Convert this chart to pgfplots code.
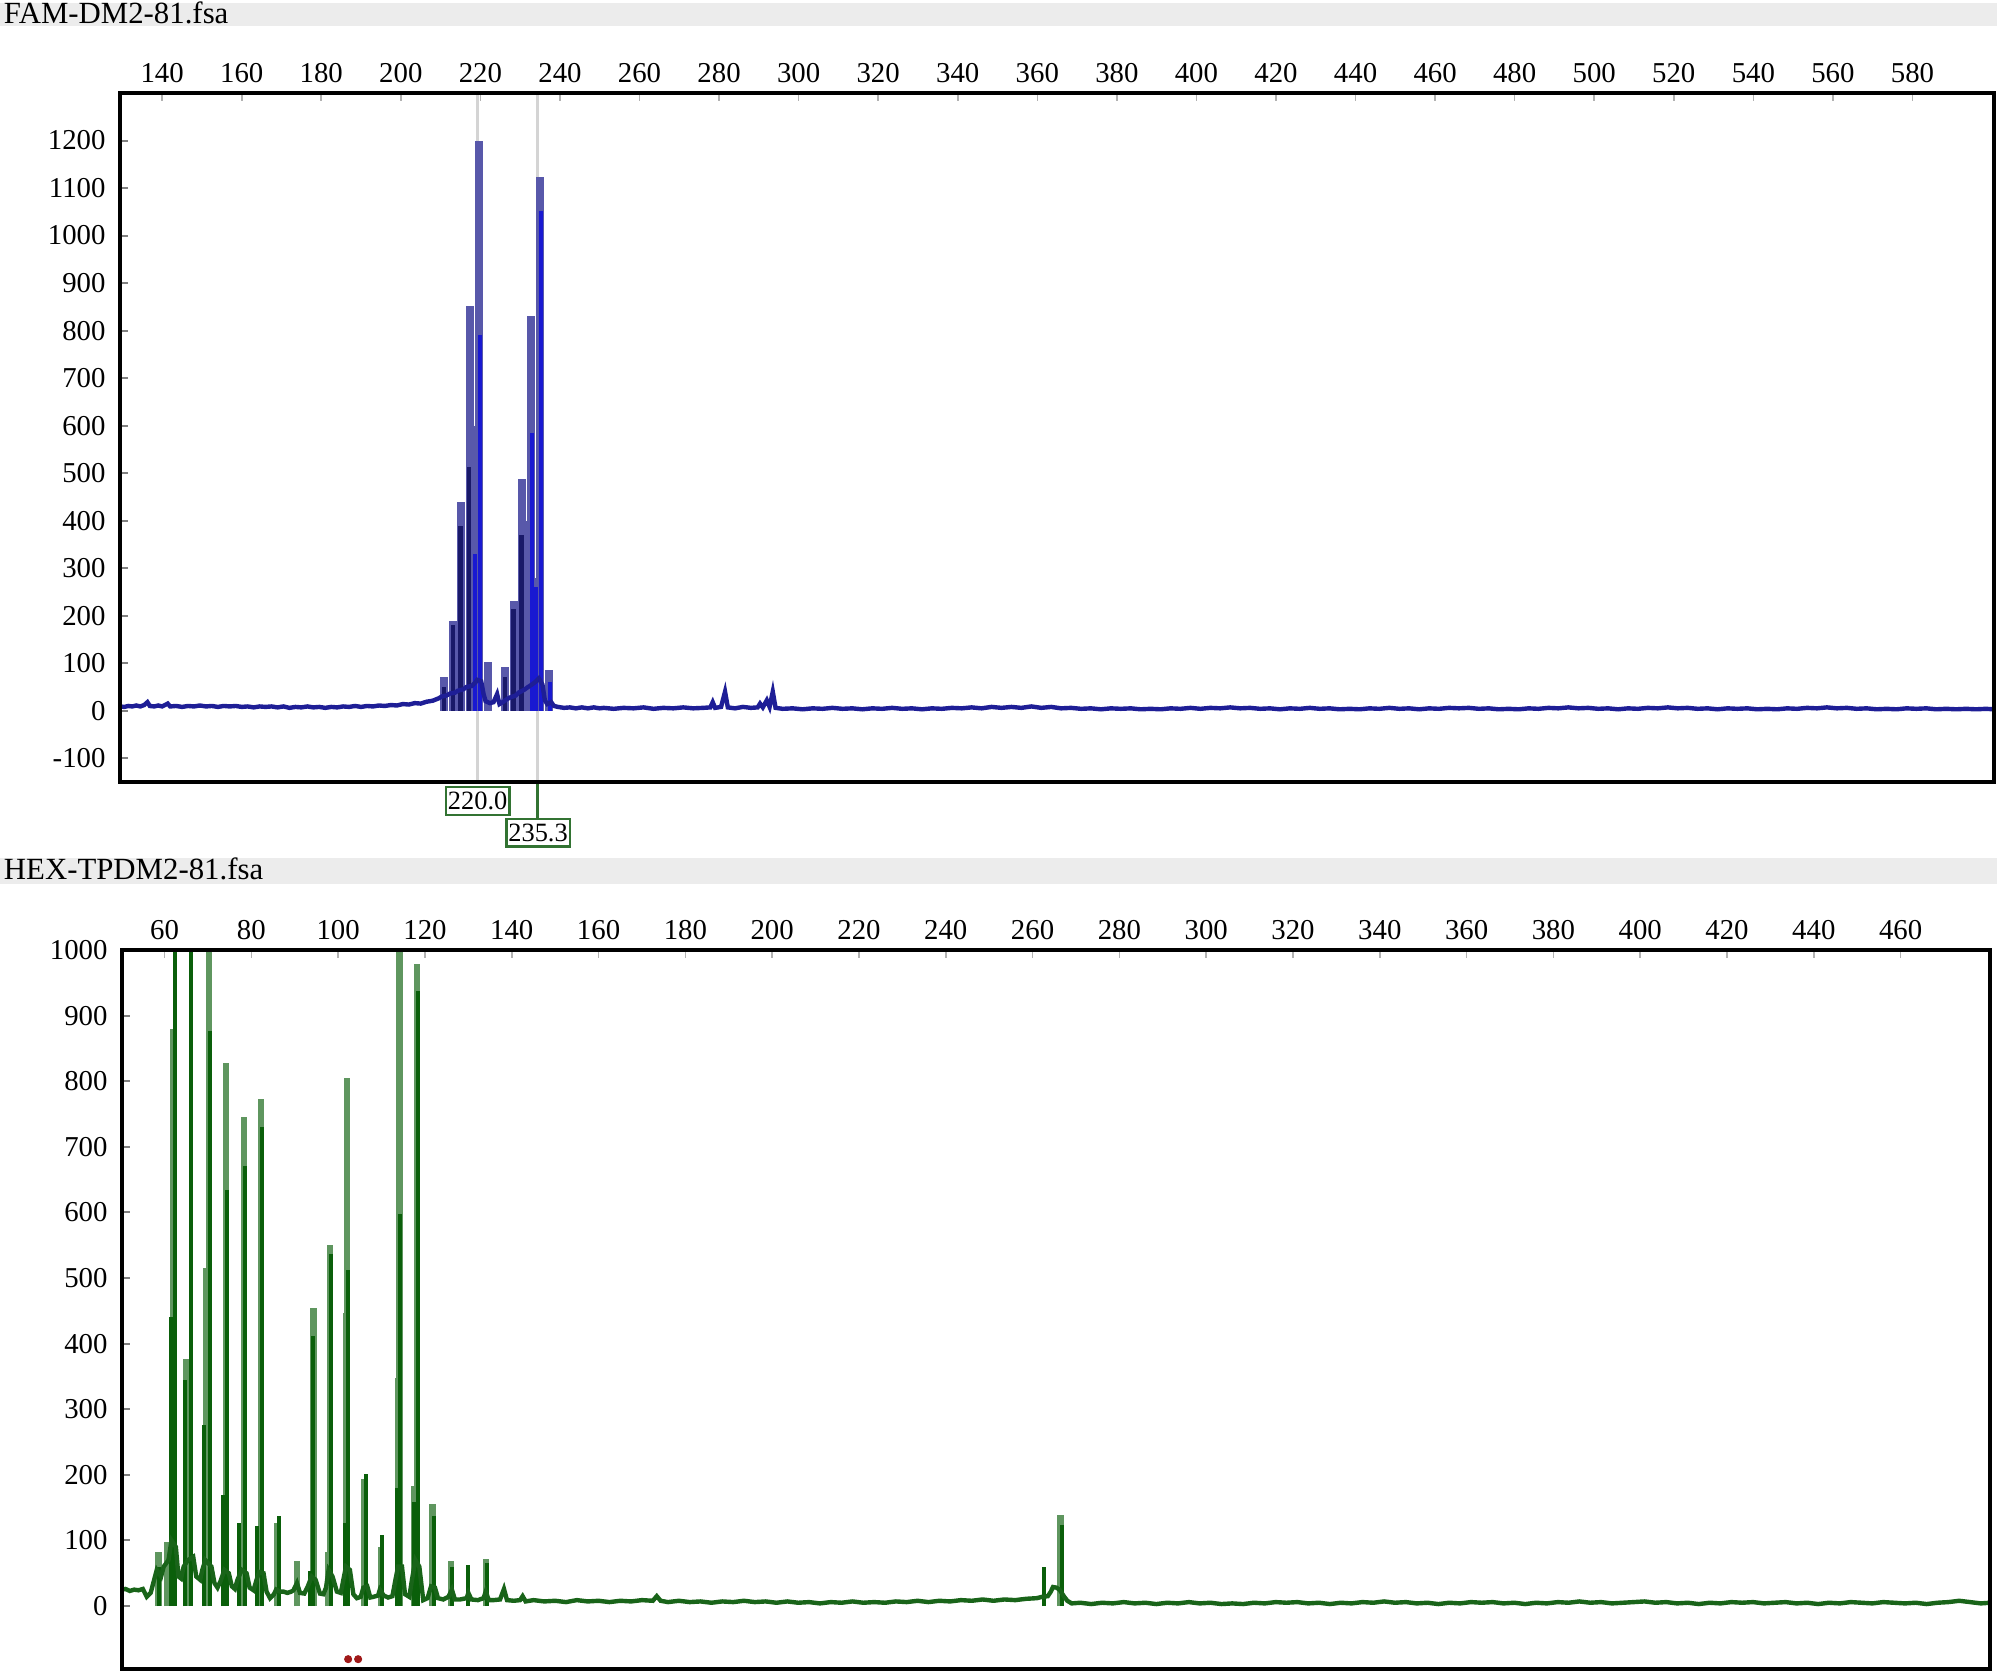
\documentclass[border=0pt]{standalone}
\usepackage{pgfplots}
\pgfplotsset{compat=1.18}
\usepackage{fontspec}
\setmainfont{Liberation Serif}
\definecolor{slate}{RGB}{88,88,170}
\definecolor{brightblue}{RGB}{25,25,210}
\definecolor{navy}{RGB}{25,25,105}
\definecolor{tracetop}{RGB}{30,30,150}
\definecolor{lightgreen}{RGB}{95,150,95}
\definecolor{darkgreen}{RGB}{10,95,10}
\definecolor{tracebot}{RGB}{25,100,25}
\definecolor{titlegray}{RGB}{236,236,236}
\definecolor{boxgreen}{RGB}{50,115,50}
\definecolor{guidegray}{RGB}{212,212,212}
\definecolor{dotred}{RGB}{160,25,25}
\pgfplotsset{
  ekg/.style={
    scale only axis, anchor=north west,
    axis on top,
    axis line style={line width=1pt, black},
    xtick pos=right, xticklabel pos=right,
    ytick pos=left,
    tick label style={font=\fontsize{7.2}{8}\selectfont},
    x tick label style={yshift=-1pt},
    /pgf/number format/assume math mode=true,
    /pgf/number format/1000 sep={},
    scaled ticks=false,
    ytick style={draw=gray, line width=0.5pt},
    xtick style={draw=gray!60, line width=0.4pt},
    major tick length=2pt,
  }
}
\begin{document}
\begin{tikzpicture}
\path[use as bounding box] (0,0) rectangle (500pt,-419.25pt);
% title bars
\fill[titlegray] (0,-0.75pt) rectangle (499.25pt,-6.6pt);
\node[anchor=base west, inner sep=0pt, font=\fontsize{7.7}{8}\selectfont] at (0.8pt,-6.0pt) {FAM-DM2-81.fsa};
\fill[titlegray] (0,-214.5pt) rectangle (499.25pt,-220.9pt);
\node[anchor=base west, inner sep=0pt, font=\fontsize{7.7}{8}\selectfont] at (0.8pt,-219.9pt) {HEX-TPDM2-81.fsa};

% ---------------- top panel ----------------
\begin{axis}[ekg, at={(29.9pt,-23.25pt)}, width=468.5pt, height=172.25pt,
  xmin=129.3, xmax=600.4, ymin=-150, ymax=1300,
  xtick={140,160,...,580}, ytick={-100,0,...,1200}, clip=false]
\draw[guidegray, line width=0.8pt] (axis cs:219.3,-150) -- (axis cs:219.3,1300);
\draw[guidegray, line width=0.8pt] (axis cs:234.4,-150) -- (axis cs:234.4,1300);
\addplot[ycomb, draw=slate, line width=2pt, mark=none] coordinates {
(210.9,71)(213.0,189)(215.1,440)(217.3,851)(218.4,600)(219.6,1200)(221.8,102)(226.3,91)
(228.4,230)(230.5,487)(231.6,400)(232.6,830)(233.8,280)(235.0,1123)(237.3,86)};
\addplot[ycomb, draw=navy, line width=1.1pt, mark=none] coordinates {
(210.9,50)(213.1,180)(215.0,389)(217.1,512)(226.2,70)(228.3,215)(230.3,369)};
\addplot[ycomb, draw=brightblue, line width=1.1pt, mark=none] coordinates {
(218.6,330)(219.9,790)(232.9,584)(233.9,260)(235.3,1051)(237.5,60)};
\addplot[draw=tracetop, line width=1.1pt, mark=none] coordinates {
(129.3,9)(130.5,8)(131.5,10)(132.5,9)(133.5,11)(134.5,9)(135.5,12)(136.3,18)(136.9,10)(138,9)(139,11)(140,9)
(141.4,15)(142,9)(143.5,10)(145,8)(146.5,10)(148,9)(149.5,11)(151,9)(152.5,10)(154,8)(155.5,10)(157,9)
(158.5,10)(160,8)(161.5,9)(163,7)(164.5,9)(166,8)(167.5,9)(169,7)(170.5,9)(172,6)(173.5,8)(175,7)(176.5,9)
(178,7)(179.5,8)(181,6)(182.5,8)(184,7)(185.5,9)(187,8)(188.5,10)(190,8)(191.5,10)(193,9)(194.5,11)(196,10)
(197.5,12)(199,11)(200.5,14)(202,13)(203.5,16)(205,15)(206.5,19)(208,21)(209.5,26)(210.3,30)(211.5,32)
(212.3,36)(213.6,38)(214.3,42)(215.7,45)(216.5,50)(217.8,52)(218.8,60)(219.2,65)(220.2,62)(220.8,35)
(221.3,20)(222.4,16)(223.3,18)(224.2,35)(224.8,14)(225.6,18)(226.8,25)(227.5,28)(228.9,32)(229.6,38)
(231.0,44)(232.0,50)(233.1,56)(234.0,62)(234.7,68)(235.6,55)(236.2,22)(236.8,14)(237.8,18)(238.5,10)
(239.5,8)(241,6)(242.5,7)(244,5)(245.5,7)(247,5)(248.5,7)(250,5)
(251,6)(253.5,4)(256,6)(258.5,5)(261,7)(263.5,4)(266,6)(268.5,5)(271,7)(273.5,5)(276,6)(277.8,7)(278.4,18)(279,6)
(280.5,8)(281.5,40)(282.2,7)(284,5)(286,8)(288,6)(289.7,7)(290.3,15)(291,7)(292,22)(292.7,8)(293.5,40)(294.2,6)
(296,4)(298.5,5)(301,3)(303.5,5)(306,4)(308.5,6)(311,4)(313.5,5)(316,3)(318.5,5)(321,4)(323.5,6)(326,4)
(328.5,5)(331,3)(333.5,5)(336,4)(338.5,6)(341,5)(343.5,7)(346,5)(348.5,8)(351,6)(353.5,8)(356,6)(358.5,9)
(361,6)(363.5,8)(366,5)(368.5,6)(371,4)(373.5,5)(376,3)(378.5,5)(381,4)(383.5,5)(386,3)(388.5,4)(391,3)
(393.5,5)(396,4)(398.5,6)(401,4)(403.5,6)(406,5)(408.5,7)(411,5)(413.5,6)(416,4)(418.5,5)(421,3)(423.5,5)
(426,4)(428.5,6)(431,4)(433.5,5)(436,3)(438.5,4)(441,3)(443.5,5)(446,4)(448.5,6)(451,4)(453.5,5)(456,3)
(458.5,5)(461,4)(463.5,6)(466,5)(468.5,6)(471,4)(473.5,5)(476,3)(478.5,4)(481,3)(483.5,5)(486,4)(488.5,6)
(491,5)(493.5,7)(496,5)(498.5,6)(501,4)(503.5,5)(506,3)(508.5,5)(511,4)(513.5,6)(516,5)(518.5,7)(521,5)
(523.5,6)(526,4)(528.5,5)(531,3)(533.5,5)(536,4)(538.5,5)(541,3)(543.5,4)(546,3)(548.5,5)(551,4)(553.5,6)
(556,5)(558.5,7)(561,5)(563.5,6)(566,4)(568.5,5)(571,3)(573.5,4)(576,3)(578.5,5)(581,4)(583.5,5)(586,3)
(588.5,4)(591,3)(593.5,4)(596,3)(598.5,4)(600.4,3)};
\node[draw=boxgreen, line width=0.6pt, fill=white, inner sep=0.5pt, minimum width=15.6pt, minimum height=7pt,
  anchor=north, font=\fontsize{6.6}{7}\selectfont] at ([yshift=-1pt]axis cs:219.3,-150) {220.0};
\draw[boxgreen, line width=0.6pt] (axis cs:234.4,-150) -- ([yshift=-9pt]axis cs:234.4,-150);
\node[draw=boxgreen, line width=0.6pt, fill=white, inner sep=0.5pt, minimum width=15.4pt, minimum height=6.8pt,
  anchor=north, font=\fontsize{6.6}{7}\selectfont] at ([yshift=-9pt]axis cs:234.5,-150) {235.3};
\end{axis}

% ---------------- bottom panel ----------------
\begin{axis}[ekg, at={(30.4pt,-237.5pt)}, width=467.1pt, height=179.75pt,
  xmin=50.1, xmax=480.6, ymin=-96, ymax=1000,
  xtick={60,80,...,460}, ytick={0,100,...,1000}]
\addplot[ycomb, draw=lightgreen, line width=1.6pt, mark=none] coordinates {
(58.6,83)(60.5,97)(61.9,880)(65.0,376)(69.6,516)(70.2,1300)(74.2,827)(78.3,745)(82.2,773)(86.0,126)
(90.5,69)(94.3,455)(97.7,83)(98.1,551)(101.9,447)(102.1,805)(106.0,194)(109.8,90)(113.9,348)(114.1,1300)
(117.6,183)(118.1,978)(121.7,155)(126.0,69)(134.0,72)(266.4,138)};
\addplot[ycomb, draw=darkgreen, line width=1pt, mark=none] coordinates {
(58.7,60)(61.4,440)(62.3,1300)(64.8,344)(66.1,1300)(69.1,276)(70.4,877)(73.4,169)(74.4,634)(77.2,126)
(78.5,670)(81.2,122)(82.4,730)(86.3,137)(93.5,54)(94.1,412)(98.3,537)(101.6,126)(102.3,512)(106.3,201)
(110.1,108)(113.6,180)(114.3,598)(117.4,158)(118.3,938)(122.0,137)(126.3,60)(130.0,62)(134.2,65)
(262.7,59)(266.7,123)};
\addplot[draw=tracebot, line width=1.1pt, mark=none] coordinates {
(50.1,25)(51,26)(52,23)(53,25)(54,24)(55,26)(55.9,14)(56.8,20)(57.6,40)(58.2,55)(59.2,45)(59.8,60)(60.9,70)
(61.6,100)(62.6,90)(63.2,45)(63.8,42)(64.4,60)(65.4,70)(66.6,75)(67.3,45)(68.2,40)(68.7,55)(69.4,70)(70.8,60)
(71.5,35)(72.2,28)(72.9,38)(73.8,55)(74.8,50)(75.5,30)(76.2,26)(76.8,40)(77.8,55)(78.9,50)(79.6,28)(80.5,24)
(81.2,40)(81.8,52)(82.8,50)(83.5,22)(84.3,12)(85.2,18)(85.7,25)(86.6,22)(87.4,22)(88.3,20)(89.2,22)(89.7,24)
(90.5,35)(91.2,20)(92.2,19)(93.0,30)(93.9,45)(94.8,40)(95.8,19)(96.6,18)(97.2,28)(97.8,55)(98.7,45)(99.7,22)
(100.6,20)(101.2,40)(101.8,60)(102.7,55)(103.5,18)(104.3,12)(105.2,14)(105.8,28)(106.7,30)(107.4,13)(108.1,14)
(109.2,16)(109.6,25)(110.5,16)(111.5,13)(112.5,15)(113.2,40)(113.8,60)(114.7,60)(115.4,18)(116.4,14)(117.0,40)
(117.8,70)(118.7,60)(119.6,9)(120.6,12)(121.4,30)(122.3,28)(123.0,12)(124.2,10)(125.4,14)(126.2,25)(126.9,10)
(128.1,10)(129.6,12)(130.0,20)(130.7,10)(132.2,9)(133.5,12)(134.0,22)(134.7,9)(135.8,9)(137.3,10)(138.2,26)
(138.9,9)(140.5,8)(141.9,9)(142.5,15)(143.2,7)(145,9)
(147.5,7)(150,8)(152.5,6)(155,9)(157.5,7)(160,8)(162.5,6)(165,8)(167.5,7)(170,9)(172.5,8)(173.4,15)(174.3,8)
(176,6)(178.5,8)(181,6)(183.5,7)(186,5)(188.5,7)(191,6)(193.5,8)(196,6)(198.5,7)(201,5)(203.5,7)(206,5)
(208.5,6)(211,4)(213.5,6)(216,5)(218.5,7)(221,5)(223.5,6)(226,5)(228.5,7)(231,6)(233.5,8)(236,6)(238.5,8)
(241,7)(243.5,9)(246,8)(248.5,10)(251,8)(253.5,10)(256,9)(258.5,11)(261,12)(262.2,14)(263.5,15)(264.2,22)
(264.7,29)(265.5,28)(266.2,25)(267.3,14)(268,8)(269,4)(271,5)(273.5,3)(276,5)(278.5,4)(281,6)(283.5,4)
(286,5)(288.5,3)(291,5)(293.5,4)(296,6)(298.5,4)(301,5)(303.5,3)(306,4)(308.5,3)(311,5)(313.5,4)(316,6)
(318.5,5)(321,6)(323.5,4)(326,5)(328.5,3)(331,5)(333.5,4)(336,6)(338.5,5)(341,7)(343.5,5)(346,6)(348.5,4)
(351,5)(353.5,3)(356,5)(358.5,4)(361,6)(363.5,5)(366,6)(368.5,4)(371,5)(373.5,3)(376,5)(378.5,4)(381,6)
(383.5,5)(386,7)(388.5,5)(391,6)(393.5,4)(396,5)(398.5,6)(401,7)(403.5,5)(406,6)(408.5,4)(411,5)(413.5,3)
(416,5)(418.5,4)(421,6)(423.5,5)(426,6)(428.5,4)(431,5)(433.5,6)(436,4)(438.5,5)(441,3)(443.5,5)(446,4)
(448.5,6)(451,5)(453.5,4)(456,6)(458.5,5)(461,4)(463.5,5)(466,3)(468.5,5)(471,6)(473.5,8)(476,6)(478.5,4)
(480.6,5)};
\addplot[only marks, mark=*, mark size=0.8pt, color=dotred] coordinates {(102.3,-81)(104.6,-81)};
\end{axis}
\end{tikzpicture}
\end{document}
